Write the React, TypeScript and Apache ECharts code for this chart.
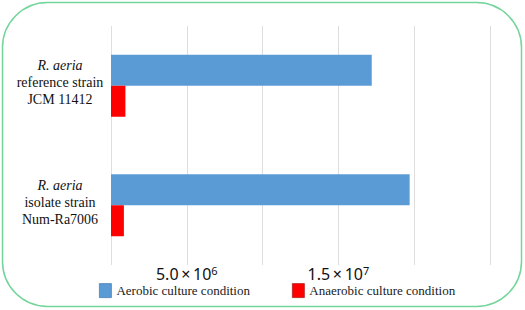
import React, { useEffect, useRef } from "react";
import * as echarts from "echarts";

const categories = ["reference", "isolate"];
const categoryLines = [
  ["R. aeria", "reference strain", "JCM 11412"],
  ["R. aeria", "isolate strain", "Num-Ra7006"],
];
const seriesNames = ["Aerobic culture condition", "Anaerobic culture condition"];
const aerobic = [17.2e6, 19.7e6];
const anaerobic = [0.95e6, 0.85e6];
const shownTicks: Record<number, [string, string]> = {
  5e6: ["5.0\u2009\u00d7\u200910", "6"],
  15e6: ["1.5\u2009\u00d7\u200910", "7"],
};

const SERIF = "Times";
const SANS = "Noto Sans";

export default function App() {
  const ref = useRef<HTMLDivElement>(null);
  useEffect(() => {
    const chart = echarts.init(ref.current!, null, { renderer: "svg" });
    chart.setOption({
      animation: false,
      backgroundColor: "#ffffff",
      graphic: [
        {
          type: "rect",
          shape: { x: 2.5, y: 2.5, width: 519, height: 304, r: 45 },
          style: { fill: "none", stroke: "#74d59a", lineWidth: 1.5 },
          silent: true,
        },
      ],
      legend: {
        bottom: 7,
        left: 94,
        itemWidth: 12,
        itemHeight: 14,
        itemGap: 42,
        textStyle: { fontFamily: SERIF, fontSize: 13, color: "#1a1a1a" },
        data: seriesNames.map((n, i) => ({
          name: n,
          icon: "rect",
          itemStyle: { borderColor: i === 0 ? "#4a7fb5" : "#b32020", borderWidth: 0.8 },
        })),
      },
      grid: { left: 111, right: 35, top: 26, bottom: 45 },
      xAxis: {
        type: "value",
        min: 0,
        max: 25e6,
        interval: 5e6,
        axisLine: { show: false },
        axisTick: { show: false },
        splitLine: { show: true, lineStyle: { color: "#dedede", width: 1 } },
        axisLabel: {
          margin: 0,
          formatter: (v: number) => {
            const t = shownTicks[v];
            return t ? `{m|${t[0]}}{s|${t[1]}}` : "";
          },
          rich: {
            m: { fontFamily: SANS, fontSize: 16, color: "#111" },
            s: { fontFamily: SANS, fontSize: 11, color: "#111", verticalAlign: "top", padding: [0, 0, 6, 0] },
          },
        },
      },
      yAxis: {
        type: "category",
        inverse: true,
        data: categories,
        axisLine: { show: false },
        axisTick: { show: false },
        axisLabel: {
          align: "center",
          margin: 51,
          padding: [0, 0, 6, 0],
          formatter: (_v: string, idx: number) => {
            const l = categoryLines[idx];
            return `{i|${l[0]}}\n{n|${l[1]}}\n{n|${l[2]}}`;
          },
          rich: {
            i: { fontFamily: SERIF, fontStyle: "italic", fontSize: 14, lineHeight: 17, color: "#111" },
            n: { fontFamily: SERIF, fontSize: 14, lineHeight: 17, color: "#111" },
          },
        },
      },
      series: [
        {
          name: seriesNames[0],
          type: "bar",
          data: aerobic,
          barWidth: 31,
          barGap: "0%",
          itemStyle: { color: "#5b9bd5" },
        },
        {
          name: seriesNames[1],
          type: "bar",
          data: anaerobic,
          barWidth: 31,
          barGap: "0%",
          itemStyle: { color: "#ff0000" },
        },
      ],
    });
    return () => chart.dispose();
  }, []);
  return (
    <div
      ref={ref}
      style={{ position: "fixed", left: 0, top: 0, width: 525, height: 310 }}
    />
  );
}
